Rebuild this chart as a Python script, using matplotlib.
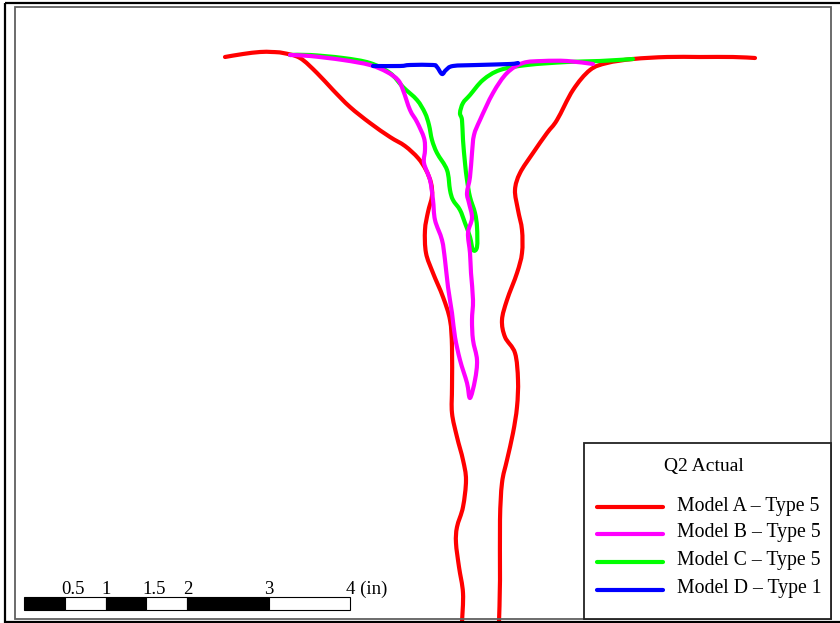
import matplotlib
matplotlib.use("Agg")
import matplotlib.pyplot as plt
from matplotlib.patches import Rectangle, PathPatch
from matplotlib.path import Path

# Contours in map units (x to the right, y downward, page pixels)
model_a_left_x = [225, 243, 260, 272, 283, 300, 317, 333, 350, 370, 390, 405, 418, 426, 431, 432, 428, 425, 426,
                  433, 443, 450, 452, 452, 452, 457, 463, 466, 463, 457, 456, 459, 463, 462]
model_a_left_y = [57, 54, 52, 52, 53, 58, 73, 90, 107, 123, 137, 146, 158, 170, 183, 196, 212, 230, 253,
                  273, 297, 320, 347, 387, 413, 437, 460, 480, 507, 527, 543, 567, 593, 622]
model_a_right_x = [499, 500, 500, 502, 507, 513, 517, 518, 515, 505, 502, 507, 517, 522, 522, 518, 515, 520, 533, 547,
                   557, 573, 590, 607, 633, 667, 700, 733, 755]
model_a_right_y = [622, 580, 520, 483, 460, 433, 407, 380, 353, 337, 320, 300, 273, 253, 230, 210, 190, 173, 153, 133,
                   120, 90, 70, 63, 59, 57, 57, 57, 58]

model_b_x = [290, 310, 343, 370, 387, 398, 403, 410, 417, 424, 425, 424, 430, 433, 435, 442, 445, 448, 452, 455, 460,
             467, 470, 475, 477, 473, 472, 473, 471, 470, 468, 472, 469, 467, 470, 472, 474, 480, 493, 507, 523, 543,
             567, 593]
model_b_y = [55, 56, 60, 65, 72, 80, 90, 110, 122, 138, 150, 163, 180, 200, 220, 240, 260, 287, 313, 337, 360,
             383, 398, 380, 360, 340, 320, 300, 273, 253, 233, 218, 203, 193, 177, 153, 135, 120, 93, 73, 63, 61,
             61, 64]

model_c_x = [290, 310, 343, 370, 390, 403, 417, 425, 429, 432, 437, 447, 450, 453, 460, 465, 470, 473, 477, 477, 475,
             470, 467, 465, 463, 462, 460, 463, 470, 483, 500, 527, 567, 600, 633]
model_c_y = [55, 55, 58, 63, 73, 87, 100, 113, 125, 140, 153, 170, 190, 200, 210, 223, 237, 250, 247, 227, 213,
             197, 180, 163, 140, 120, 113, 103, 95, 80, 70, 65, 62, 61, 59]

model_d_x = [373, 400, 410, 433, 437, 442, 446, 453, 477, 510, 518]
model_d_y = [66, 66, 65, 65, 67, 74, 70, 66, 65, 64, 63]

legend_title = "Q2 Actual"
legend_labels = ["Model A \u2013 Type 5", "Model B \u2013 Type 5", "Model C \u2013 Type 5", "Model D \u2013 Type 1"]
colors = ["#ff0000", "#ff00ff", "#00ff00", "#0000ff"]

# scale bar (inches)
scale_stops = [0, 0.5, 1, 1.5, 2, 3, 4]
scale_labels = ["0.5", "1", "1.5", "2", "3", "4 (in)"]
px_per_in = 81.5
scale_x0 = 24

plt.rcParams['font.family'] = ['Liberation Serif', 'DejaVu Serif']


def smooth_path(xs, ys, t=0.5):
    # Catmull-Rom style bezier through the traced points
    pts = list(zip(xs, ys))
    verts = [pts[0]]
    codes = [Path.MOVETO]
    n = len(pts)
    for i in range(n - 1):
        p0 = pts[i - 1] if i > 0 else pts[i]
        p1 = pts[i]
        p2 = pts[i + 1]
        p3 = pts[i + 2] if i + 2 < n else pts[i + 1]
        c1 = (p1[0] + (p2[0] - p0[0]) * t / 3, p1[1] + (p2[1] - p0[1]) * t / 3)
        c2 = (p2[0] - (p3[0] - p1[0]) * t / 3, p2[1] - (p3[1] - p1[1]) * t / 3)
        verts += [c1, c2, p2]
        codes += [Path.CURVE4] * 3
    return Path(verts, codes)


fig = plt.figure(figsize=(8.4, 6.23), dpi=100)
ax = fig.add_axes([0, 0, 1, 1])
ax.set_xlim(0, 840)
ax.set_ylim(623, 0)
ax.axis('off')

lw = 3.0
curves = [
    (model_a_left_x, model_a_left_y, colors[0]),
    (model_a_right_x, model_a_right_y, colors[0]),
    (model_c_x, model_c_y, colors[2]),
    (model_b_x, model_b_y, colors[1]),
    (model_d_x, model_d_y, colors[3]),
]
for xs, ys, col in curves:
    ax.add_patch(PathPatch(smooth_path(xs, ys), fill=False, ec=col, lw=lw,
                           joinstyle='round', capstyle='round'))

# page frames
ax.add_patch(Rectangle((5, 3), 845, 619, fill=False, ec='black', lw=1.6, zorder=5))
ax.add_patch(Rectangle((15, 7), 816, 612, fill=False, ec='#606060', lw=1.3, zorder=5))

# legend box
ax.add_patch(Rectangle((584, 443), 247, 176, fc='white', ec='#222222', lw=1.3, zorder=6))
ax.text(704, 467, legend_title, fontsize=14, ha='center', va='center', zorder=7)
rows_y = [507, 534, 562, 590]
for lab, col, yy in zip(legend_labels, colors, rows_y):
    ax.plot([597, 663], [yy, yy], color=col, lw=lw, solid_capstyle='round', zorder=7)
    ax.text(677, yy - 1, lab, fontsize=14.2, ha='left', va='center', zorder=7)

# scale bar
for i in range(len(scale_stops) - 1):
    x0 = scale_x0 + scale_stops[i] * px_per_in
    x1 = scale_x0 + scale_stops[i + 1] * px_per_in
    ax.add_patch(Rectangle((x0, 597), x1 - x0, 13, fc='black' if i % 2 == 0 else 'white',
                           ec='black', lw=0.8, zorder=6))
for s, lab in zip(scale_stops[1:], scale_labels):
    xx = scale_x0 + s * px_per_in
    ax.text(xx - 4, 594, lab, fontsize=13.5, ha='left', va='baseline', zorder=7)

fig.savefig("out.png", dpi=100)
